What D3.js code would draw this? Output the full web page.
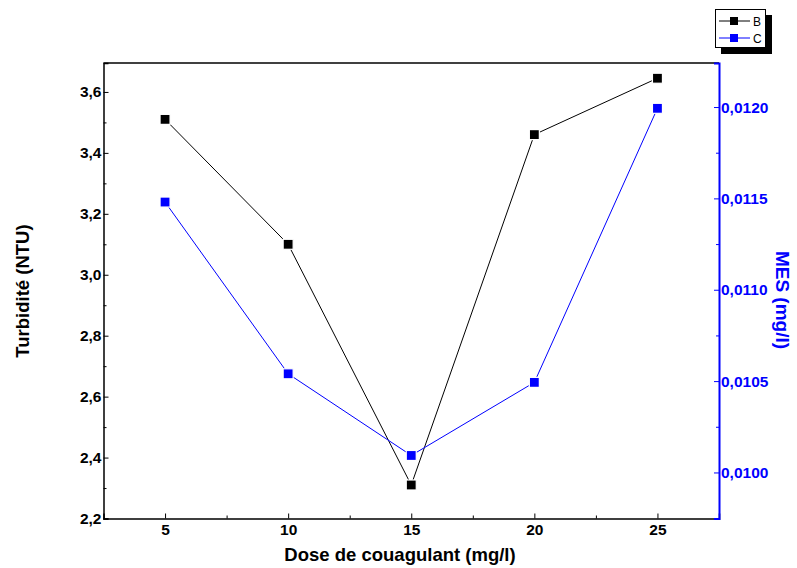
<!DOCTYPE html>
<html><head><meta charset="utf-8">
<script src="https://cdn.jsdelivr.net/npm/d3@7"></script>
<style>body{margin:0;background:#fff}svg{display:block}text{font-family:Arial,"Liberation Sans",sans-serif}</style>
</head><body><svg id="c" width="797" height="568"></svg>
<script>
const doses = [5, 10, 15, 20, 25];
const turbidity = [3.51, 3.10, 2.31, 3.46, 3.645];
const mes = [0.01148, 0.01054, 0.010093, 0.010493, 0.011993];
const xTicks = [5, 10, 15, 20, 25];
const yLeftTicks = [2.2, 2.4, 2.6, 2.8, 3.0, 3.2, 3.4, 3.6];
const yRightTicks = [0.0100, 0.0105, 0.0110, 0.0115, 0.0120];
const seriesNames = ["B", "C"];

const svg = d3.select("#c");
const L = 103.5, R = 719, T = 63, B = 518.5;
const x = d3.scaleLinear().domain([2.5, 27.5]).range([L, R]);
const yL = d3.scaleLinear().domain([2.2, 3.695]).range([B, T]);
const yR = d3.scaleLinear().domain([0.009748, 0.012241]).range([B, T]);
const fmt = d => d3.format(".1f")(d).replace(".", ",");
const fmtR = d => d3.format(".4f")(d).replace(".", ",");
const TF = 15.5;

// frame
svg.append("line").attr("x1", L).attr("x2", R).attr("y1", T).attr("y2", T).attr("stroke", "#000").attr("stroke-width", 1.5);

// bottom axis
const gx = svg.append("g").attr("transform", `translate(0,${B})`)
  .call(d3.axisBottom(x).tickValues(xTicks).tickSize(-5).tickPadding(5).tickFormat(d3.format("d")));
gx.select(".domain").attr("stroke-width", 1.5);
gx.selectAll(".tick text").attr("font-size", TF).attr("font-weight", "bold").attr("fill", "#000");
svg.append("g").attr("transform", `translate(0,${B})`)
  .call(d3.axisBottom(x).tickValues([7.5, 12.5, 17.5, 22.5]).tickSize(-3).tickFormat(""))
  .select(".domain").remove();

// left axis
const gl = svg.append("g").attr("transform", `translate(${L},0)`)
  .call(d3.axisLeft(yL).tickValues(yLeftTicks).tickSize(-5).tickPadding(2).tickFormat(fmt));
gl.select(".domain").attr("stroke-width", 1.5);
gl.selectAll(".tick text").attr("font-size", TF).attr("font-weight", "bold").attr("fill", "#000");
svg.append("g").attr("transform", `translate(${L},0)`)
  .call(d3.axisLeft(yL).tickValues([2.3, 2.5, 2.7, 2.9, 3.1, 3.3, 3.5]).tickSize(-3).tickFormat(""))
  .select(".domain").remove();

// right axis
const gr = svg.append("g").attr("transform", `translate(${R},0)`)
  .call(d3.axisRight(yR).tickValues(yRightTicks).tickSize(-5).tickPadding(2).tickFormat(fmtR));
gr.select(".domain").attr("stroke", "#0000ff").attr("stroke-width", 2);
gr.selectAll(".tick line").attr("stroke", "#0000ff");
gr.selectAll(".tick text").attr("font-size", TF).attr("font-weight", "bold").attr("fill", "#0000ff");
const gr2 = svg.append("g").attr("transform", `translate(${R},0)`)
  .call(d3.axisRight(yR).tickValues([0.00975, 0.01025, 0.01075, 0.01125, 0.01175]).tickSize(-3).tickFormat(""));
gr2.select(".domain").remove();
gr2.selectAll(".tick line").attr("stroke", "#0000ff");

// titles
svg.append("text").attr("x", 400).attr("y", 561).attr("text-anchor", "middle")
  .attr("font-size", 18.5).attr("font-weight", "bold").text("Dose de couagulant (mg/l)");
svg.append("text").attr("transform", "translate(29,291) rotate(-90)").attr("text-anchor", "middle")
  .attr("font-size", 18.5).attr("font-weight", "bold").text("Turbidité (NTU)");
svg.append("text").attr("transform", "translate(776,300) rotate(90)").attr("text-anchor", "middle")
  .attr("font-size", 19).attr("font-weight", "bold").attr("fill", "#0000ff").text("MES (mg/l)");

// series
function drawSeries(vals, yS, color) {
  const pts = doses.map((d, i) => [x(d), yS(vals[i])]);
  svg.append("path").attr("d", d3.line()(pts)).attr("fill", "none").attr("stroke", color).attr("stroke-width", 1);
  svg.selectAll(null).data(pts).enter().append("rect")
    .attr("x", d => d[0] - 5).attr("y", d => d[1] - 5).attr("width", 10).attr("height", 10)
    .attr("fill", color).attr("stroke", "#fff").attr("stroke-width", 1.2);
}
drawSeries(turbidity, yL, "#000");
drawSeries(mes, yR, "#0000ff");

// legend
const lg = svg.append("g");
lg.append("rect").attr("x", 721).attr("y", 15).attr("width", 51).attr("height", 39).attr("fill", "#000");
lg.append("rect").attr("x", 715.5).attr("y", 9.5).attr("width", 50).attr("height", 38).attr("fill", "#fff").attr("stroke", "#000").attr("stroke-width", 1);
const colors = ["#000", "#0000ff"];
seriesNames.forEach((n, i) => {
  const yy = 21 + i * 17;
  lg.append("line").attr("x1", 719).attr("x2", 750).attr("y1", yy).attr("y2", yy).attr("stroke", colors[i]).attr("stroke-width", 1);
  lg.append("rect").attr("x", 730).attr("y", yy - 4).attr("width", 8).attr("height", 8).attr("fill", colors[i]);
  lg.append("text").attr("x", 753).attr("y", yy + 4.5).attr("font-size", 12).attr("fill", "#000").text(n);
});
</script></body></html>
